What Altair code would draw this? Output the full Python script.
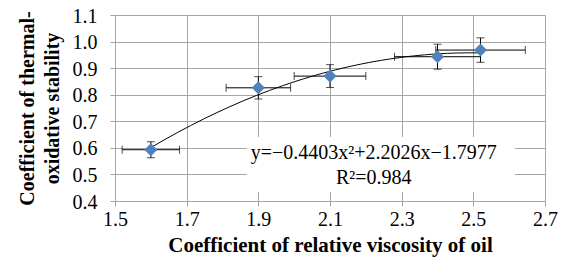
import altair as alt
import pandas as pd

# data
visc = [1.6, 1.9, 2.1, 2.4, 2.52]
stab = [0.593, 0.826, 0.870, 0.943, 0.968]
x_err = [0.08, 0.09, 0.10, 0.12, 0.125]
y_err = [0.03, 0.042, 0.043, 0.047, 0.046]

x_ticks = [1.5, 1.7, 1.9, 2.1, 2.3, 2.5, 2.7]
y_ticks = [0.4, 0.5, 0.6, 0.7, 0.8, 0.9, 1.0, 1.1]

eq_lines = ["y=\u22120.4403x\u00b2+2.2026x\u22121.7977", "R\u00b2=0.984"]
eq_x = [2.222, 2.222]
eq_y = [0.581, 0.487]
box_x = [1.868]
box_x2 = [2.616]
box_y = [0.641]
box_y2 = [0.434]

FONT = "Liberation Serif"
GRID = "#a6a6a6"

df = pd.DataFrame({
    "x": visc, "y": stab,
    "xlo": [a - e for a, e in zip(visc, x_err)],
    "xhi": [a + e for a, e in zip(visc, x_err)],
    "ylo": [a - e for a, e in zip(stab, y_err)],
    "yhi": [a + e for a, e in zip(stab, y_err)],
})
eq_df = pd.DataFrame({"t": eq_lines, "x": eq_x, "y": eq_y})
box_df = pd.DataFrame({"x": box_x, "x2": box_x2, "y": box_y, "y2": box_y2})

xscale = alt.Scale(domain=[1.5, 2.7], nice=False, zero=False)
yscale = alt.Scale(domain=[0.4, 1.1], nice=False, zero=False)

xaxis = alt.Axis(
    values=x_ticks, format=".1f", title="Coefficient of relative viscosity of oil",
    grid=True, labelPadding=3, titleBaseline="middle", titleY=44, titleFontSize=21,
)
yaxis = alt.Axis(
    values=y_ticks, format=".1f",
    title=["Coefficient of thermal-", "oxidative stability"],
    grid=True, labelPadding=13, labelOffset=1, titleLineHeight=25, titleBaseline="middle",
    titleX=-88, titleY=93,
)


def X(field):
    return alt.X(field, type="quantitative", scale=xscale, axis=xaxis)


def Y(field):
    return alt.Y(field, type="quantitative", scale=yscale, axis=yaxis)


base = alt.Chart(df)

pts = base.mark_point(shape="diamond", filled=True, size=170, color="#4f81bd", opacity=1).encode(
    x=X("x"), y=Y("y"))
xbar = base.mark_rule(color="black", strokeWidth=1).encode(
    x=X("xlo"), x2="xhi:Q", y=Y("y"))
ybar = base.mark_rule(color="black", strokeWidth=1).encode(
    y=Y("ylo"), y2="yhi:Q", x=X("x"))
xcap_l = base.mark_tick(orient="vertical", color="black", thickness=1, size=8).encode(
    x=X("xlo"), y=Y("y"))
xcap_r = base.mark_tick(orient="vertical", color="black", thickness=1, size=8).encode(
    x=X("xhi"), y=Y("y"))
ycap_l = base.mark_tick(orient="horizontal", color="black", thickness=1, size=8).encode(
    x=X("x"), y=Y("ylo"))
ycap_h = base.mark_tick(orient="horizontal", color="black", thickness=1, size=8).encode(
    x=X("x"), y=Y("yhi"))

trend = base.transform_regression("x", "y", method="poly", order=2).mark_line(
    color="black", strokeWidth=1).encode(x=X("x"), y=Y("y"))

box = alt.Chart(box_df).mark_rect(color="white").encode(
    x=X("x"), x2="x2:Q", y=Y("y"), y2="y2:Q")
eq = alt.Chart(eq_df).mark_text(font=FONT, fontSize=20, color="black").encode(
    x=X("x"), y=Y("y"), text="t:N")

chart = alt.layer(
    box, trend, xbar, ybar, xcap_l, xcap_r, ycap_l, ycap_h, pts, eq
).properties(
    width=430, height=186,
    padding={"left": 107, "top": 7, "right": 13, "bottom": 58},
    autosize="none",
).configure_view(
    stroke=GRID, strokeWidth=1
).configure_axis(
    gridColor=GRID, domainColor=GRID, tickColor=GRID, tickSize=5,
    labelFont=FONT, labelFontSize=20, labelColor="black", labelOverlap=False,
    labelFlush=False,
    titleFont=FONT, titleFontSize=20, titleFontWeight="bold", titleColor="black",
).configure_axisY(
    values=y_ticks
)

chart.save("out.html", embed_options={"renderer": "svg", "actions": False})
